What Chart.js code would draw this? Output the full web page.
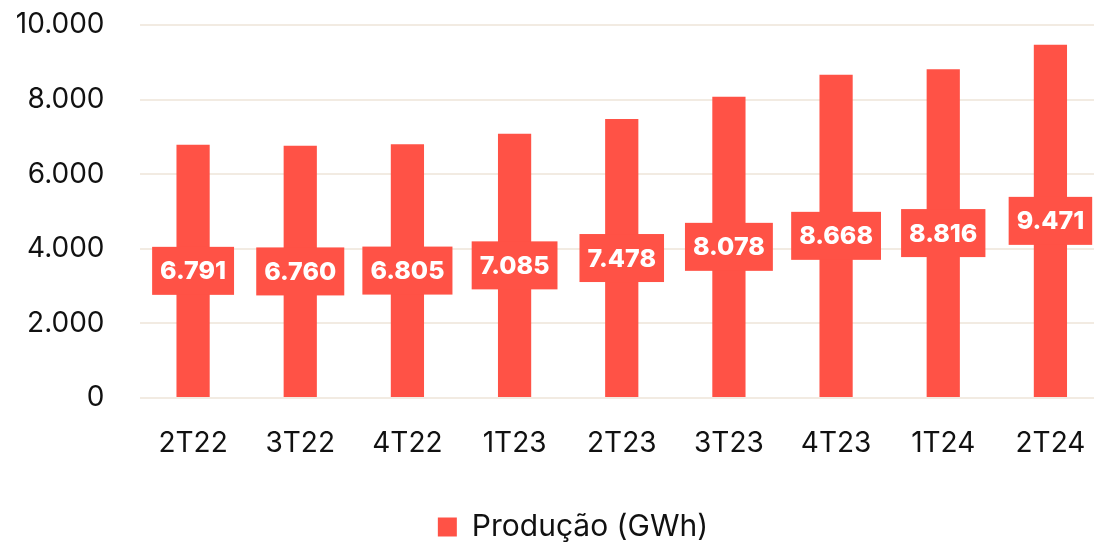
<!DOCTYPE html>
<html>
<head>
<meta charset="utf-8">
<script src="https://cdn.jsdelivr.net/npm/chart.js@4.4.1/dist/chart.umd.min.js"></script>
<style>
  html, body { margin: 0; padding: 0; background: #ffffff; overflow: hidden; }
  #wrap { position: relative; width: 1104px; height: 543px; }
</style>
</head>
<body>
<div id="wrap"><canvas id="c"></canvas></div>
<script>
const categories = ['2T22', '3T22', '4T22', '1T23', '2T23', '3T23', '4T23', '1T24', '2T24'];
const producao = [6791, 6760, 6805, 7085, 7478, 8078, 8668, 8816, 9471];
const seriesLabel = 'Produção (GWh)';

const RED = '#FF5246';
const GRID = '#F2EBE2';
const TEXT = '#111111';
const FONT = 'Inter, "Noto Sans", sans-serif';

function fmt(v) {
  const s = String(Math.round(v));
  return s.replace(/\B(?=(\d{3})+(?!\d))/g, '.');
}

const valueLabels = {
  id: 'valueLabels',
  afterDatasetsDraw(chart) {
    const ctx = chart.ctx;
    const meta = chart.getDatasetMeta(0);
    ctx.save();
    ctx.font = '800 25px ' + FONT;
    ctx.textAlign = 'center';
    ctx.textBaseline = 'middle';
    meta.data.forEach((bar, i) => {
      const txt = fmt(chart.data.datasets[0].data[i]);
      const w = ctx.measureText(txt).width + 16;
      const h = 48;
      const cx = bar.x;
      const cy = (bar.y + bar.base) / 2;
      ctx.fillStyle = RED;
      ctx.fillRect(cx - w / 2, cy - h / 2, w, h);
      ctx.fillStyle = '#ffffff';
      ctx.fillText(txt, cx, cy + 1);
    });
    ctx.restore();
  }
};

const legendShift = {
  id: 'legendShift',
  afterLayout(chart) {
    if (chart.legend) {
      chart.legend.left += 42;
      chart.legend.top += 9;
    }
  }
};

new Chart(document.getElementById('c'), {
  type: 'bar',
  data: {
    labels: categories,
    datasets: [{
      label: seriesLabel,
      data: producao,
      backgroundColor: RED,
      borderWidth: 0,
      barPercentage: 0.62,
      categoryPercentage: 0.5
    }]
  },
  options: {
    responsive: true,
    maintainAspectRatio: false,
    animation: false,
    layout: { padding: 0 },
    plugins: {
      tooltip: { enabled: false },
      legend: {
        position: 'bottom',
        labels: {
          font: { family: FONT, size: 30 },
          color: TEXT,
          boxWidth: 19,
          boxHeight: 19,
          padding: 10
        }
      }
    },
    scales: {
      x: {
        afterFit(scale) {
          scale.height = 95;
          scale.paddingLeft = 0;
          scale.paddingRight = 0;
        },
        grid: { display: false, drawTicks: false },
        border: { display: false },
        ticks: {
          font: { family: FONT, size: 28 },
          color: TEXT,
          padding: 29
        }
      },
      y: {
        min: 0,
        max: 10000,
        afterFit(scale) {
          scale.width = 139.5;
          scale.paddingTop = 25;
          scale.paddingBottom = 0;
        },
        grid: { color: GRID, lineWidth: 2, drawTicks: false },
        border: { display: false },
        ticks: {
          stepSize: 2000,
          font: { family: FONT, size: 28 },
          color: TEXT,
          padding: 35,
          callback: (v) => fmt(v)
        }
      }
    }
  },
  plugins: [valueLabels, legendShift]
});
</script>
</body>
</html>
